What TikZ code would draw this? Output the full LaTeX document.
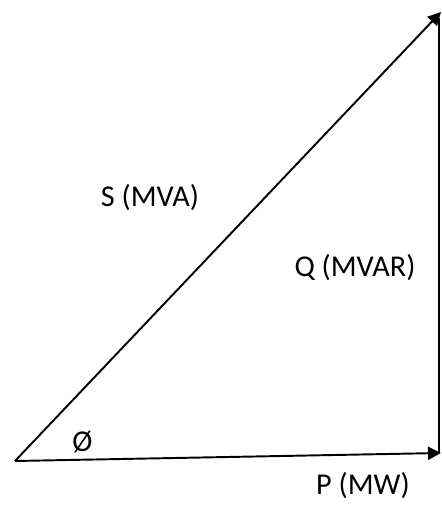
\documentclass[tikz,border=0pt]{standalone}
\usepackage{fontspec}
\setmainfont{Carlito}
\usepackage{tikz}
\usetikzlibrary{arrows.meta}

\begin{document}
\begin{tikzpicture}[>={Triangle[length=2.6mm,width=2.6mm]},line width=1.1pt,
  lbl/.style={font=\fontsize{17.2}{20}\selectfont,inner sep=1pt}]
\useasboundingbox (0,0) rectangle (8.82,10.1);
\coordinate (o) at (0.30,0.88);
\coordinate (pend) at (8.82,1.04);
\coordinate (send) at (8.82,9.86);
\coordinate (qbot) at (8.78,1.04);
\coordinate (qtop) at (8.78,9.74);
\draw[->] (o)--(pend);
\draw[->] (o)--(send);
\draw (qbot)--(qtop);
\node[lbl] (slbl) at (3.00,6.15) {S (MVA)};
\node[lbl] (qlbl) at (7.10,4.74) {Q (MVAR)};
\node[lbl] (plbl) at (7.26,0.38) {P (MW)};
\node[lbl] (phi) at (1.65,1.26) {Ø};
\end{tikzpicture}
\end{document}
